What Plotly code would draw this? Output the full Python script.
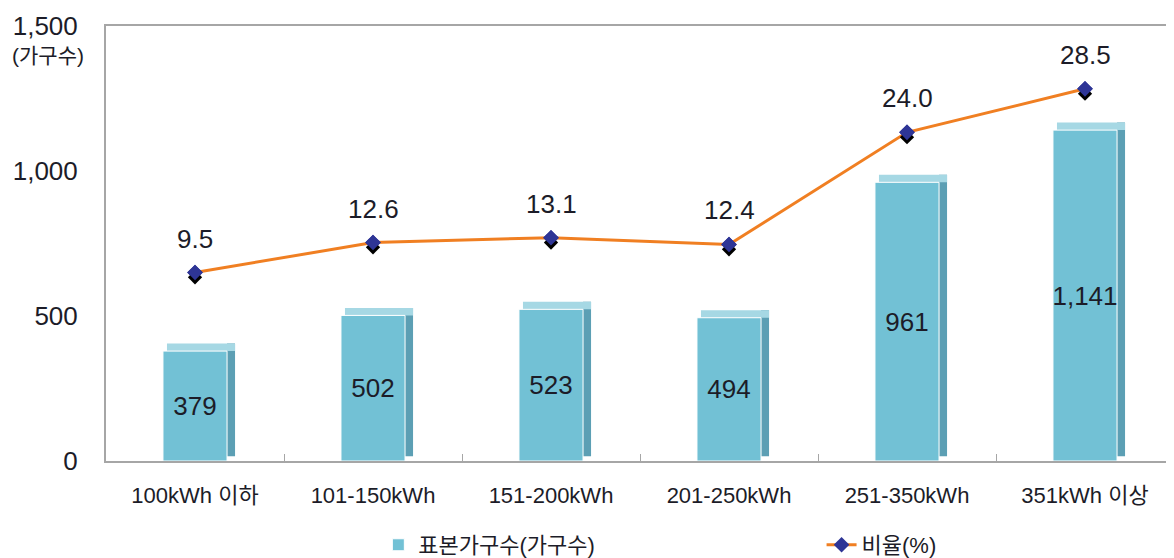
import plotly.graph_objects as go

categories = ["100kWh 이하", "101-150kWh", "151-200kWh", "201-250kWh", "251-350kWh", "351kWh 이상"]
households = [379, 502, 523, 494, 961, 1141]
ratio = [9.5, 12.6, 13.1, 12.4, 24.0, 28.5]
y_ticks = [0, 500, 1000, 1500]

FONT = "Arial, 'Liberation Sans', 'Noto Sans CJK KR', sans-serif"
FRONT = "#72c1d5"
SIDE = "#5c9fb4"
TOP = "#a6d8e4"
ORANGE = "#f07f22"
DIAMOND = "#2e3596"
TXT = "#1c1c28"

depth = 26       # visual depth of the 3D effect, in y units
front_w = 0.36
side_w = 0.045

fig = go.Figure()

# side faces of the 3D bars
fig.add_trace(go.Bar(
    x=categories, y=[v + depth - 16 for v in households], base=[16] * len(households),
    offset=front_w / 2, width=side_w, marker=dict(color=SIDE, line=dict(width=0)),
    showlegend=False, hoverinfo="skip"))
# top faces
fig.add_trace(go.Bar(
    x=categories, y=[depth] * len(households), base=households,
    offset=-front_w / 2 + side_w / 2, width=front_w + side_w / 2,
    marker=dict(color=TOP, line=dict(width=0)),
    showlegend=False, hoverinfo="skip"))
# front faces
fig.add_trace(go.Bar(
    x=categories, y=households, name="표본가구수(가구수)", legend="legend",
    offset=-front_w / 2, width=front_w,
    marker=dict(color=FRONT, line=dict(color="white", width=1)),
    texttemplate="%{y:,}", textposition="inside", insidetextanchor="middle",
    textangle=0, constraintext="none",
    textfont=dict(family=FONT, size=26, color=TXT)))

# ratio line
fig.add_trace(go.Scatter(
    x=categories, y=ratio, yaxis="y2", name="비율(%)", legend="legend2",
    mode="lines+markers",
    line=dict(color=ORANGE, width=3),
    marker=dict(symbol="diamond", size=12, color=DIAMOND)))
# marker shadow
fig.add_trace(go.Scatter(
    x=categories, y=[r - 0.5 for r in ratio], yaxis="y2", mode="markers",
    marker=dict(symbol="diamond", size=11, color="#000000"),
    showlegend=False, hoverinfo="skip"))
fig.add_trace(go.Scatter(
    x=categories, y=ratio, yaxis="y2", mode="markers",
    marker=dict(symbol="diamond", size=12, color=DIAMOND),
    showlegend=False, hoverinfo="skip"))

for c, r in zip(categories, ratio):
    fig.add_annotation(x=c, y=r, yref="y2", text=f"{r:.1f}", showarrow=False,
                       yshift=34, font=dict(family=FONT, size=26, color=TXT))

fig.add_annotation(xref="paper", yref="paper", x=-0.054, y=0.933, text="(가구수)",
                   showarrow=False, xanchor="center", yanchor="middle",
                   font=dict(family=FONT, size=21, color=TXT))

legend_common = dict(orientation="h", xanchor="left", y=-0.193, yanchor="middle",
                     font=dict(family=FONT, size=22, color=TXT), bgcolor="rgba(0,0,0,0)")

fig.update_layout(
    width=1166, height=550,
    margin=dict(l=98, r=0, t=18, b=97, autoexpand=False),
    paper_bgcolor="white", plot_bgcolor="white",
    barmode="overlay",
    font=dict(family=FONT, color=TXT),
    showlegend=True,
    legend=dict(x=0.255, **legend_common),
    legend2=dict(x=0.67, **legend_common),
    xaxis=dict(type="category", showline=True, linecolor="#a6a6a6", linewidth=2, mirror=True,
               ticks="inside", ticklen=7, tickcolor="#a6a6a6", tickson="boundaries",
               showgrid=False, ticklabelstandoff=14,
               tickfont=dict(family=FONT, size=22, color=TXT)),
    yaxis=dict(range=[0, 1500], tickvals=y_ticks, tickformat=",", showgrid=False,
               zeroline=False, showline=True, linecolor="#a6a6a6", linewidth=2, mirror=True,
               ticks="", ticklabelstandoff=21,
               tickfont=dict(family=FONT, size=26, color=TXT)),
    yaxis2=dict(range=[-10, 35], overlaying="y", visible=False),
)

fig.write_html("out.html")
